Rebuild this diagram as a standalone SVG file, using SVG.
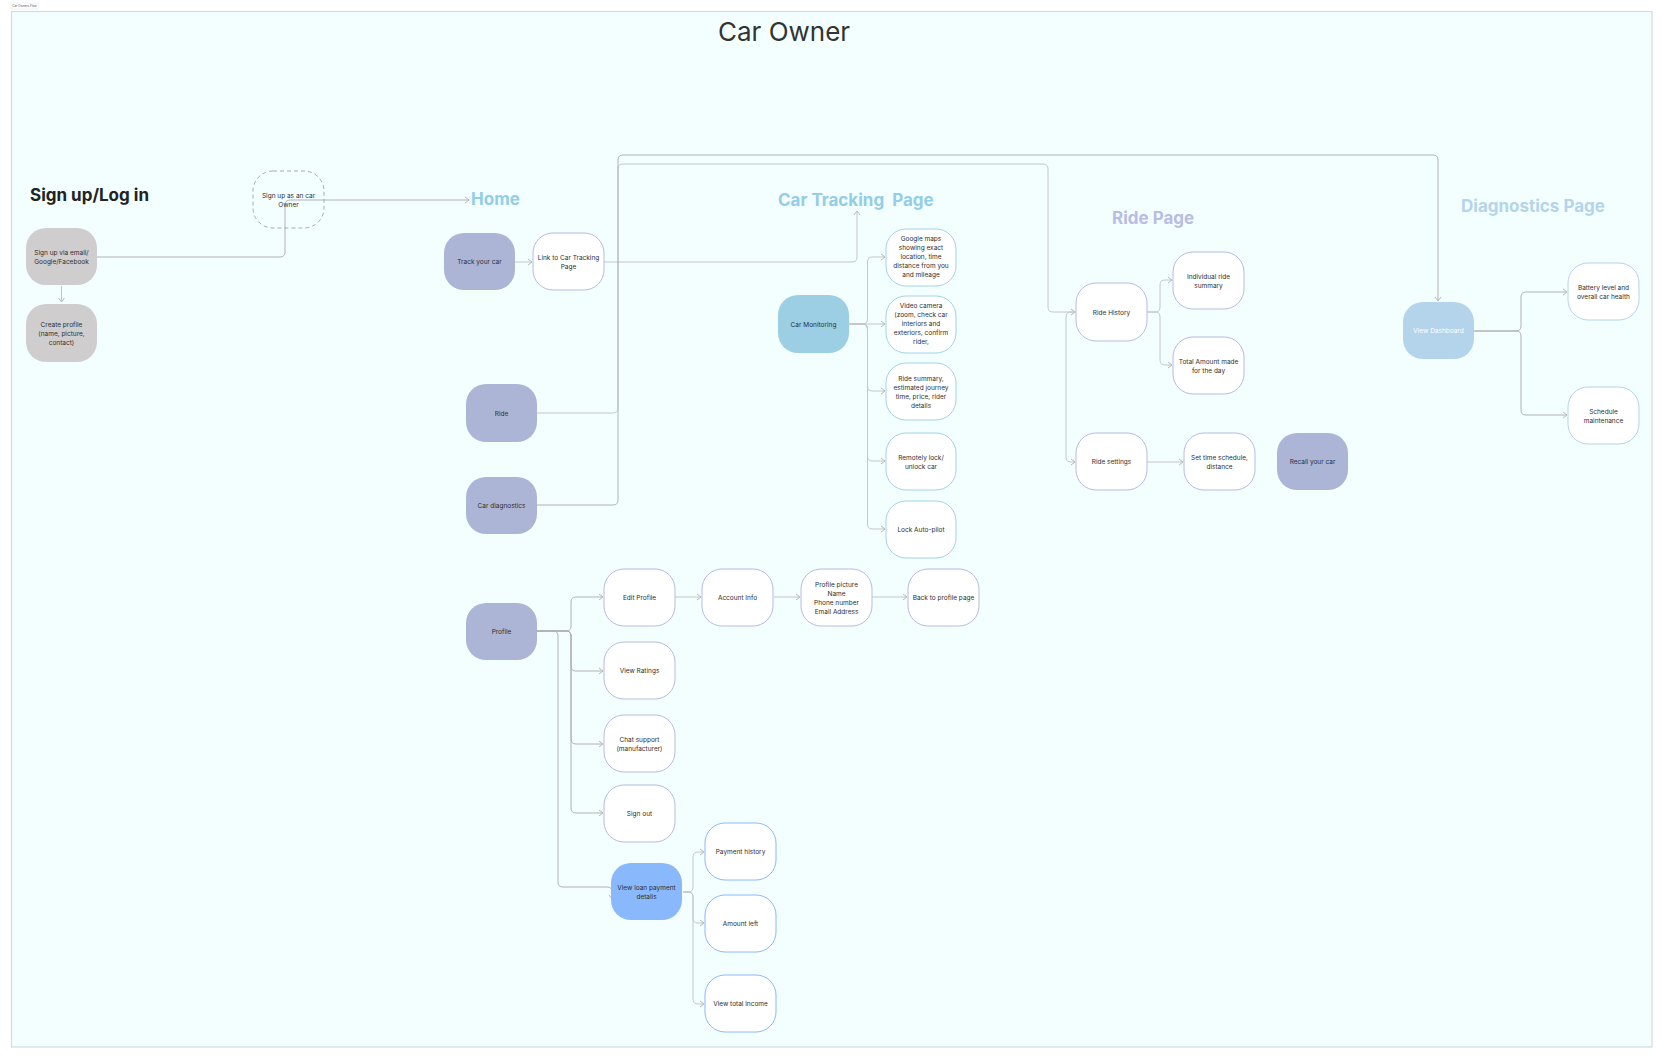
<svg xmlns="http://www.w3.org/2000/svg" width="1664" height="1060" viewBox="0 0 1664 1060">
<style>
  text { font-family: Inter, "Liberation Sans", sans-serif; }
  .t { font-size: 6.5px; fill: #2e2e2e; text-anchor: middle; }
  .tw { font-size: 6.5px; fill: #ffffff; text-anchor: middle; }
  .h { font-size: 17px; font-weight: 700; }
  .gray { fill: #d0cdce; stroke: none; }
  .purple { fill: #adb5d6; stroke: none; }
  .lav { fill: #ffffff; stroke: #b6bbe3; }
  .cyan { fill: #ffffff; stroke: #a0d2ea; }
  .mon { fill: #9ccfe3; stroke: none; }
  .dash { fill: #b3d4ea; stroke: none; }
  .dashb { fill: #ffffff; stroke: #b3d4ea; }
  .loan { fill: #8ab8fc; stroke: none; }
  .loanb { fill: #ffffff; stroke: #8ab8fc; }
  .c { fill: none; stroke: #c6c6c6; stroke-width: 1; }
  .cd { fill: none; stroke: #b2b2b2; stroke-width: 1; }
</style>
<defs>
  <marker id="arr" viewBox="0 0 8 8" refX="7" refY="4" markerWidth="8" markerHeight="8" markerUnits="userSpaceOnUse" orient="auto">
    <path d="M3,1 L7,4 L3,7" fill="none" stroke="#b8b8b8" stroke-width="1"/>
  </marker>
</defs>
<rect x="0" y="0" width="1664" height="1060" fill="#ffffff"/>
<rect x="11.5" y="11.5" width="1640.5" height="1035.5" fill="#f3ffff" stroke="#cfdbe6" stroke-width="1.2"/>
<g id="frame-label">
  <rect x="11" y="3" width="27" height="6" fill="#ffffff" stroke="#d8dde3" stroke-width="0.4"/>
  <text x="24.5" y="7.2" style="font-size:3px;fill:#555;text-anchor:middle">Car Owners Flow</text>
</g>
<g id="titles">
  <text x="718" y="41" style="font-size:26px;fill:#333">Car Owner</text>
  <text x="30" y="201" class="h" style="fill:#222">Sign up/Log in</text>
  <text x="471" y="205" class="h" style="fill:#93cde6">Home</text>
  <text x="778" y="206" class="h" style="fill:#93cde6;white-space:pre" xml:space="preserve">Car Tracking  Page</text>
  <text x="1112" y="224" class="h" style="fill:#b8bce6">Ride Page</text>
  <text x="1461" y="212" class="h" style="fill:#b3d4ea">Diagnostics Page</text>
</g>
<g id="connectors">
  <path class="cd" d="M97,257 H280 Q285,257 285,252 V205 Q285,200 290,200 H469" marker-end="url(#arr)"/>
  <path class="c" d="M61.5,286 V302" marker-end="url(#arr)"/>
  <path class="c" d="M515,262 H532" marker-end="url(#arr)"/>
  <path class="c" d="M604,262 H852 Q857,262 857,257 V211" marker-end="url(#arr)"/>
  <path class="c" d="M537,413 H613 Q618,413 618,408 V169 Q618,164 623,164 H1043 Q1048,164 1048,169 V307 Q1048,312 1053,312 H1075" marker-end="url(#arr)"/>
  <path class="cd" d="M537,505 H613 Q618,505 618,500 V160 Q618,155 623,155 H1433 Q1438,155 1438,160 V301" marker-end="url(#arr)"/>
  <path class="c" d="M849,324 H862.5 Q867.5,324 867.5,319 V262 Q867.5,257 872.5,257 H885" marker-end="url(#arr)"/>
  <path class="c" d="M849,324 H885" marker-end="url(#arr)"/>
  <path class="c" d="M849,324 H862.5 Q867.5,324 867.5,329 V386 Q867.5,391 872.5,391 H885" marker-end="url(#arr)"/>
  <path class="c" d="M849,324 H862.5 Q867.5,324 867.5,329 V456 Q867.5,461 872.5,461 H885" marker-end="url(#arr)"/>
  <path class="c" d="M849,324 H862.5 Q867.5,324 867.5,329 V524 Q867.5,529 872.5,529 H885" marker-end="url(#arr)"/>
  <path class="c" d="M1147,312 H1155 Q1160,312 1160,307 V285 Q1160,280 1165,280 H1172" marker-end="url(#arr)"/>
  <path class="c" d="M1147,312 H1155 Q1160,312 1160,317 V360 Q1160,365 1165,365 H1172" marker-end="url(#arr)"/>
  <path class="c" d="M1076,312 H1071 Q1066,312 1066,317 V457 Q1066,462 1071,462 H1075" marker-end="url(#arr)"/>
  <path class="c" d="M1147,462 H1183" marker-end="url(#arr)"/>
  <path class="cd" d="M1474,331 H1516 Q1521,331 1521,326 V297 Q1521,292 1526,292 H1567" marker-end="url(#arr)"/>
  <path class="cd" d="M1474,331 H1516 Q1521,331 1521,336 V410 Q1521,415 1526,415 H1567" marker-end="url(#arr)"/>
  <path class="cd" d="M537,631 H566 Q571,631 571,626 V602 Q571,597 576,597 H603" marker-end="url(#arr)"/>
  <path class="cd" d="M537,631 H566 Q571,631 571,636 V666 Q571,671 576,671 H603" marker-end="url(#arr)"/>
  <path class="cd" d="M537,631 H566 Q571,631 571,636 V739 Q571,744 576,744 H603" marker-end="url(#arr)"/>
  <path class="cd" d="M537,631 H566 Q571,631 571,636 V808 Q571,813 576,813 H603" marker-end="url(#arr)"/>
  <path class="c" d="M675,597 H701" marker-end="url(#arr)"/>
  <path class="c" d="M774,597 H800" marker-end="url(#arr)"/>
  <path class="c" d="M872,597 H907" marker-end="url(#arr)"/>
  <path class="cd" d="M537,631 H553 Q558,631 558,636 V882 Q558,887 563,887 H607 Q612,887 612,892 V899" marker-end="url(#arr)"/>
  <path class="c" d="M683,892 H688 Q693,892 693,887 V857 Q693,852 698,852 H704" marker-end="url(#arr)"/>
  <path class="c" d="M683,892 H688 Q693,892 693,897 V918 Q693,923 698,923 H704" marker-end="url(#arr)"/>
  <path class="c" d="M683,892 H688 Q693,892 693,897 V999 Q693,1004 698,1004 H704" marker-end="url(#arr)"/>
</g>
<g id="signup-owner"><rect x="253" y="171" width="71" height="57" rx="20" fill="none" stroke="#a9a9a9" stroke-dasharray="4 3"/><text class="t"><tspan x="288.5" y="198.3">Sign up as an car</tspan><tspan x="288.5" y="207">Owner</tspan></text></g>
<g id="signup-email"><rect class="gray" x="26" y="228" width="71" height="57" rx="20"/><text class="t"><tspan x="61.5" y="254.5">Sign up via email/</tspan><tspan x="61.5" y="263.5">Google/Facebook</tspan></text></g>
<g id="create-profile"><rect class="gray" x="26" y="304" width="71" height="58" rx="20"/><text class="t"><tspan x="61.5" y="326.5">Create profile</tspan><tspan x="61.5" y="335.5">(name, picture,</tspan><tspan x="61.5" y="344.5">contact)</tspan></text></g>
<g id="track"><rect class="purple" x="444" y="233" width="71" height="57" rx="20"/><text class="t" x="479.5" y="264">Track your car</text></g>
<g id="link-tracking"><rect class="lav" x="533" y="233" width="71" height="57" rx="20"/><text class="t"><tspan x="568.5" y="259.5">Link to Car Tracking</tspan><tspan x="568.5" y="268.5">Page</tspan></text></g>
<g id="ride"><rect class="purple" x="466" y="384" width="71" height="58" rx="20"/><text class="t" x="501.5" y="415.5">Ride</text></g>
<g id="car-diagnostics"><rect class="purple" x="466" y="477" width="71" height="57" rx="20"/><text class="t" x="501.5" y="508">Car diagnostics</text></g>
<g id="profile"><rect class="purple" x="466" y="603" width="71" height="57" rx="20"/><text class="t" x="501.5" y="634">Profile</text></g>
<g id="car-monitoring"><rect class="mon" x="778" y="295" width="71" height="58" rx="20"/><text class="t" x="813.5" y="326.5">Car Monitoring</text></g>
<g id="google-maps"><rect class="cyan" x="886" y="229" width="70" height="57" rx="20"/><text class="t"><tspan x="921" y="241">Google maps</tspan><tspan x="921" y="250">showing exact</tspan><tspan x="921" y="259">location, time</tspan><tspan x="921" y="268">distance from you</tspan><tspan x="921" y="277">and mileage</tspan></text></g>
<g id="video-camera"><rect class="cyan" x="886" y="296" width="70" height="57" rx="20"/><text class="t"><tspan x="921" y="308">Video camera</tspan><tspan x="921" y="317">(zoom, check car</tspan><tspan x="921" y="326">interiors and</tspan><tspan x="921" y="335">exteriors, confirm</tspan><tspan x="921" y="344">rider,</tspan></text></g>
<g id="ride-summary"><rect class="cyan" x="886" y="363" width="70" height="57" rx="20"/><text class="t"><tspan x="921" y="380.5">Ride summary,</tspan><tspan x="921" y="389.5">estimated journey</tspan><tspan x="921" y="398.5">time, price, rider</tspan><tspan x="921" y="407.5">details</tspan></text></g>
<g id="remote-lock"><rect class="cyan" x="886" y="433" width="70" height="57" rx="20"/><text class="t"><tspan x="921" y="459.5">Remotely lock/</tspan><tspan x="921" y="468.5">unlock car</tspan></text></g>
<g id="lock-autopilot"><rect class="cyan" x="886" y="501" width="70" height="57" rx="20"/><text class="t" x="921" y="532">Lock Auto-pilot</text></g>
<g id="ride-history"><rect class="lav" x="1076" y="283" width="71" height="58" rx="20"/><text class="t" x="1111.5" y="314.5">Ride History</text></g>
<g id="individual-ride"><rect class="lav" x="1173" y="252" width="71" height="57" rx="20"/><text class="t"><tspan x="1208.5" y="278.5">Individual ride</tspan><tspan x="1208.5" y="287.5">summary</tspan></text></g>
<g id="total-amount"><rect class="lav" x="1173" y="337" width="71" height="57" rx="20"/><text class="t"><tspan x="1208.5" y="363.5">Total Amount made</tspan><tspan x="1208.5" y="372.5">for the day</tspan></text></g>
<g id="ride-settings"><rect class="lav" x="1076" y="433" width="71" height="57" rx="20"/><text class="t" x="1111.5" y="464">Ride settings</text></g>
<g id="set-time"><rect class="lav" x="1184" y="433" width="71" height="57" rx="20"/><text class="t"><tspan x="1219.5" y="459.5">Set time schedule,</tspan><tspan x="1219.5" y="468.5">distance</tspan></text></g>
<g id="recall"><rect class="purple" x="1277" y="433" width="71" height="57" rx="20"/><text class="t" x="1312.5" y="464">Recall your car</text></g>
<g id="view-dashboard"><rect class="dash" x="1403" y="302" width="71" height="57" rx="20"/><text class="tw" x="1438.5" y="333">View Dashboard</text></g>
<g id="battery"><rect class="dashb" x="1568" y="263" width="71" height="57" rx="20"/><text class="t"><tspan x="1603.5" y="289.5">Battery level and</tspan><tspan x="1603.5" y="298.5">overall car health</tspan></text></g>
<g id="schedule"><rect class="dashb" x="1568" y="387" width="71" height="57" rx="20"/><text class="t"><tspan x="1603.5" y="413.5">Schedule</tspan><tspan x="1603.5" y="422.5">maintenance</tspan></text></g>
<g id="edit-profile"><rect class="lav" x="604" y="569" width="71" height="57" rx="20"/><text class="t" x="639.5" y="600">Edit Profile</text></g>
<g id="account-info"><rect class="lav" x="702" y="569" width="71" height="57" rx="20"/><text class="t" x="737.5" y="600">Account Info</text></g>
<g id="profile-details"><rect class="lav" x="801" y="569" width="71" height="57" rx="20"/><text class="t"><tspan x="836.5" y="586.5">Profile picture</tspan><tspan x="836.5" y="595.5">Name</tspan><tspan x="836.5" y="604.5">Phone number</tspan><tspan x="836.5" y="613.5">Email Address</tspan></text></g>
<g id="back-profile"><rect class="lav" x="908" y="569" width="71" height="57" rx="20"/><text class="t" x="943.5" y="600">Back to profile page</text></g>
<g id="view-ratings"><rect class="lav" x="604" y="642" width="71" height="57" rx="20"/><text class="t" x="639.5" y="673">View Ratings</text></g>
<g id="chat-support"><rect class="lav" x="604" y="715" width="71" height="57" rx="20"/><text class="t"><tspan x="639.5" y="741.5">Chat support</tspan><tspan x="639.5" y="750.5">(manufacturer)</tspan></text></g>
<g id="sign-out"><rect class="lav" x="604" y="785" width="71" height="57" rx="20"/><text class="t" x="639.5" y="816">Sign out</text></g>
<g id="loan"><rect class="loan" x="611" y="863" width="71" height="57" rx="20"/><text class="t"><tspan x="646.5" y="889.5">View loan payment</tspan><tspan x="646.5" y="898.5">details</tspan></text></g>
<g id="payment-history"><rect class="loanb" x="705" y="823" width="71" height="57" rx="20"/><text class="t" x="740.5" y="854">Payment history</text></g>
<g id="amount-left"><rect class="loanb" x="705" y="895" width="71" height="57" rx="20"/><text class="t" x="740.5" y="926">Amount left</text></g>
<g id="total-income"><rect class="loanb" x="705" y="975" width="71" height="57" rx="20"/><text class="t" x="740.5" y="1006">View total income</text></g>
</svg>
